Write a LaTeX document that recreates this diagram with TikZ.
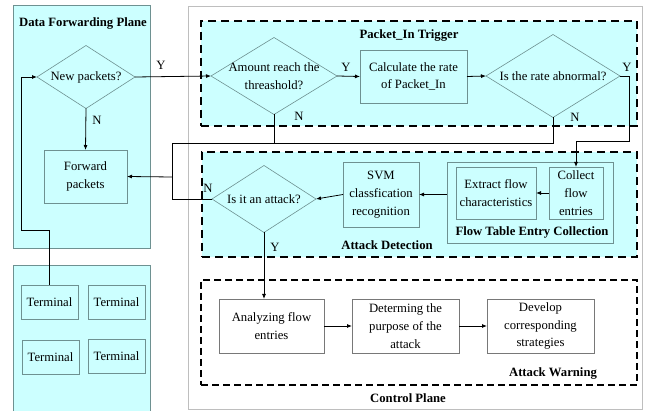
\documentclass[tikz,border=0pt]{standalone}
\usepackage{fontspec}
\setmainfont{Liberation Serif}
\usetikzlibrary{shapes.geometric,arrows.meta}
\definecolor{paneltint}{RGB}{204,255,255}
\definecolor{boxedge}{RGB}{110,145,145}
\definecolor{plainedge}{RGB}{120,120,120}
\definecolor{ctrledge}{RGB}{190,190,190}
\tikzset{
  txt/.style={font=\fontsize{12.7}{17.8}\selectfont, align=center, inner sep=0pt},
  heading/.style={font=\fontsize{12.7}{14}\selectfont\bfseries, inner sep=0pt},
  panel/.style={draw=boxedge, fill=paneltint, line width=0.6pt, inner sep=0pt, outer sep=0pt},
  dashregion/.style={draw=black, line width=1.6pt, dash pattern=on 8pt off 5pt, inner sep=0pt, outer sep=0pt},
  tintbox/.style={draw=boxedge, fill=paneltint, line width=0.6pt, inner sep=0pt, outer sep=0pt,
                  font=\fontsize{12.7}{17.8}\selectfont, align=center},
  whitebox/.style={draw=plainedge, fill=white, line width=0.6pt, inner sep=0pt, outer sep=0pt,
                   font=\fontsize{12.7}{17.8}\selectfont, align=center},
  decision/.style={diamond, draw=boxedge, fill=paneltint, line width=0.6pt, inner sep=0pt, outer sep=0pt},
  flow/.style={draw=black, line width=0.8pt},
  flowarrow/.style={flow, -{Latex[length=5pt,width=4pt]}},
}
\begin{document}
\begin{tikzpicture}[x=1pt,y=-1pt]
\useasboundingbox (0,0) rectangle (648,411);
\fill[white] (0,0) rectangle (648,411);

% ---------------- panels ----------------
\node[panel, minimum width=137, minimum height=243] (dfp) at (81.5,126.5) {};
\node[heading] (dfptitle) at (83,23) {Data Forwarding Plane};
\node[panel, minimum width=137, minimum height=148] (termpanel) at (81.5,339) {};

\node[draw=ctrledge, line width=0.8pt, fill=white, minimum width=454, minimum height=403, inner sep=0pt] (ctrl) at (415,207.5) {};
\node[heading] (ctrltitle) at (408,398) {Control Plane};

\node[dashregion, fill=paneltint, minimum width=436, minimum height=105] (pkt) at (419,73.5) {};
\node[heading] (pkttitle) at (409,36) {Packet\_In Trigger};

\node[dashregion, fill=paneltint, minimum width=435, minimum height=105] (att) at (419.5,204.5) {};
\node[heading] (atttitle) at (387,245) {Attack Detection};

\node[dashregion, line width=1.3pt, dash pattern=on 7pt off 4pt, minimum width=436, minimum height=105] (warn) at (419,332.5) {};
\node[heading] (warntitle) at (553,373) {Attack Warning};

% ---------------- data forwarding plane ----------------
\node[decision, minimum width=98, minimum height=63] (d1) at (86,77) {};
\node[txt] (d1t) at (86,77) {New packets?};
\node[tintbox, minimum width=83, minimum height=53] (fwd) at (85.5,176.5) {Forward\\packets};

\node[tintbox, minimum width=57, minimum height=34] (t1) at (49.5,302) {Terminal};
\node[tintbox, minimum width=57, minimum height=34] (t2) at (116.5,302) {Terminal};
\node[tintbox, minimum width=57, minimum height=34] (t3) at (50.5,357) {Terminal};
\node[tintbox, minimum width=57, minimum height=34] (t4) at (116.5,356) {Terminal};

% ---------------- packet_in trigger ----------------
\node[decision, minimum width=126, minimum height=77] (d2) at (274,76) {};
\node[txt] (d2t) at (274,76) {Amount reach the\\threashold?};
\node[tintbox, minimum width=107, minimum height=53] (calc) at (413.5,76.5) {Calculate the rate\\of Packet\_In};
\node[decision, minimum width=134, minimum height=83] (d3) at (553,76) {};
\node[txt] (d3t) at (553,76) {Is the rate abnormal?};

% ---------------- attack detection ----------------
\node[decision, minimum width=104, minimum height=67] (d4) at (264,199) {};
\node[txt] (d4t) at (264,199) {Is it an attack?};
\node[tintbox, minimum width=76, minimum height=65] (svm) at (381,194.5) {SVM\\classfication\\recognition};
\node[tintbox, minimum width=166, minimum height=81] (ftc) at (530,202.5) {};
\node[heading] (ftctitle) at (532,232) {Flow Table Entry Collection};
\node[tintbox, minimum width=80, minimum height=52] (extract) at (496,193) {Extract flow\\characteristics};
\node[tintbox, minimum width=54, minimum height=52] (collect) at (576,193) {Collect\\flow\\entries};

% ---------------- attack warning ----------------
\node[whitebox, minimum width=105, minimum height=54] (analyze) at (271.5,326) {Analyzing flow\\entries};
\node[whitebox, minimum width=107, minimum height=54] (determ) at (405.5,326) {Determing the\\purpose of the\\attack};
\node[whitebox, minimum width=107, minimum height=54] (develop) at (540.5,326) {Develop\\corresponding\\strategies};

% ---------------- routing points ----------------
\coordinate (tc) at (21,230);
\coordinate (yr) at (629,141);
\coordinate (jt) at (172,143);
\coordinate (jm) at (172,177);

% ---------------- connectors ----------------
\draw[flowarrow] (t1.north) |- (tc) |- (d1.west);
\draw[flowarrow] (d1.south) -- (fwd.north);
\draw[flowarrow] (d1.east) -- (d2.west);
\draw[flowarrow] (d2.east) -- (calc.west);
\draw[flowarrow] (calc.east) -- (d3.west);
\draw[flowarrow] (d3.east) -| (yr) -| (collect.north);
\draw[flow] (d2.south) |- (jt);
\draw[flow] (d3.south) |- (jt);
\draw[flow] (d4.west) -| (jt);
\draw[flowarrow] (jm) -- (fwd.east);
\draw[flowarrow] (collect.west) -- (extract.east);
\draw[flowarrow] (ftc.west |- svm.east) -- (svm.east);
\draw[flowarrow] (svm.west) -- (d4.east);
\draw[flowarrow] (d4.south) -- (d4.south |- analyze.north);
\draw[flowarrow] (analyze.east) -- (determ.west);
\draw[flowarrow] (determ.east) -- (develop.west);

% ---------------- branch labels ----------------
\node[txt] (l1) at (97,120) {N};
\node[txt] (l2) at (161,65) {Y};
\node[txt] (l3) at (346,67) {Y};
\node[txt] (l4) at (299,116) {N};
\node[txt] (l5) at (627,67) {Y};
\node[txt] (l6) at (575,117) {N};
\node[txt] (l7) at (208,188) {N};
\node[txt] (l8) at (275,247) {Y};
\end{tikzpicture}
\end{document}
